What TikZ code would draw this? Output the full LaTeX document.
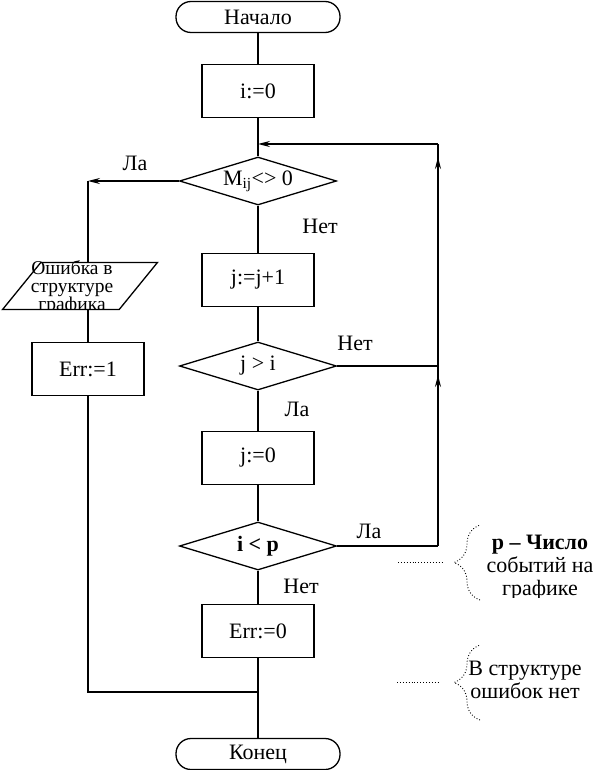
\documentclass[tikz,border=0pt]{standalone}
\usepackage{fontspec}
\setmainfont{Liberation Serif}
\usetikzlibrary{arrows.meta,calc,positioning,shapes.geometric,decorations.pathreplacing,decorations.markings}
\tikzset{
  every node/.style={font=\fontsize{22}{24}\selectfont},
  terminal/.style={draw, line width=1.3pt, rounded corners=15pt, minimum width=164pt, minimum height=31pt, inner sep=0pt},
  process/.style={draw, line width=1.3pt, minimum width=112pt, minimum height=53pt},
  decision/.style={draw, diamond, aspect=3.3, line width=1.3pt, minimum width=157pt, minimum height=48pt, inner sep=0pt},
  io/.style={draw, trapezium, trapezium left angle=64, trapezium right angle=116, trapezium stretches=true, line width=1.3pt, minimum width=155pt, minimum height=47pt, inner sep=3pt},
  flow/.style={line width=1.4pt},
  arrowflow/.style={flow, -{Stealth[length=12pt,width=6pt,inset=4pt]}},
  guide/.style={line width=0.9pt, dotted},
  remark/.style={align=center, inner sep=0pt, font=\fontsize{22}{23}\selectfont},
}

\begin{document}
\begin{tikzpicture}[x=1pt, y=-1pt]
  \useasboundingbox (0,0) rectangle (599,770);
  % Main column
  \node[terminal] (start) at (258,17) {Начало};
  \node[process] (i0) at (258,91) {i:=0};
  \coordinate (J) at (258,144);
  \node[decision] (d1) at (258,181) {M\textsubscript{ij}\textless\textgreater{} 0};
  \node[process] (j1) at (258,280) {j:=j+1};
  \node[decision] (d2) at (258,366) {j \textgreater{} i};
  \node[process] (j0) at (258,458) {j:=0};
  \node[decision] (d3) at (258,546) {\textbf{i \textless{} p}};
  \node[process] (err0) at (258,631) {Err:=0};
  \coordinate (M) at (258,692);
  \node[terminal] (stop) at (258,754) {Конец};
  % Error branch
  \coordinate (L) at (88,181);
  \node[io] (errmsg) at (80,286) {};
  \begin{scope}
    \clip (0,255) rectangle (170,308);
    \node[align=center, inner sep=0pt, font=\fontsize{19.5}{18}\selectfont] (errtext) at (72,288) {Ошибка в\\структуре\\графика};
  \end{scope}
  \node[process] (err1) at (88,369) {Err:=1};
  \coordinate (LM) at (88,692);
  % Loop line on the right
  \coordinate (R1) at (438,546);
  \coordinate (R2) at (438,366);
  \coordinate (R3) at (438,144);
  % Connectors
  \draw[flow] (start) -- (i0);
  \draw[flow] (i0) -- (d1);
  \draw[flow] (d1) -- (j1);
  \draw[flow] (j1) -- (d2);
  \draw[flow] (d2) -- (j0);
  \draw[flow] (j0) -- (d3);
  \draw[flow] (d3) -- (err0);
  \draw[flow] (err0) -- (stop);
  \draw[arrowflow] (d1.west) -- (L);
  \draw[flow] (L) -- (L |- errmsg.north);
  \draw[flow] (L |- errmsg.south) -- (err1);
  \draw[flow] (err1) -- (LM) -- (M);
  \draw[flow] (d3.east) -- (R1);
  \draw[flow] (d2.east) -- (R2);
  \draw[flow, postaction={decorate}, decoration={markings,
      mark=at position 171pt with {\arrow{Stealth[length=12pt,width=6pt,inset=4pt]}},
      mark=at position 389pt with {\arrow{Stealth[length=12pt,width=6pt,inset=4pt]}}}]
    (R1) -- (R3);
  \draw[arrowflow] (R3) -- (J);
  % Branch labels
  \node (yes1) at (135,163) {Ла};
  \node (no1) at (320,226) {Нет};
  \node (no2) at (355,343) {Нет};
  \node (yes2) at (297,409) {Ла};
  \node (yes3) at (369,531) {Ла};
  \node (no3) at (301,586) {Нет};
  % Notes
  \coordinate (n1) at (398,562);
  \coordinate (n1e) at (442,562);
  \draw[guide] (n1) -- (n1e);
  \draw[guide, decorate, decoration={brace, amplitude=26pt}] (480,600) -- (480,525);
  \begin{scope}
    \clip (440,515) rectangle (599,597);
    \node[remark] (note1) at (540,568) {\textbf{p – Число}\\событий на\\графике};
  \end{scope}
  \coordinate (n2) at (397,682);
  \coordinate (n2e) at (440,682);
  \draw[guide] (n2) -- (n2e);
  \draw[guide, decorate, decoration={brace, amplitude=26pt}] (480,720) -- (480,645);
  \node[remark] (note2) at (525,680) {В структуре\\ошибок нет};
\end{tikzpicture}
\end{document}
